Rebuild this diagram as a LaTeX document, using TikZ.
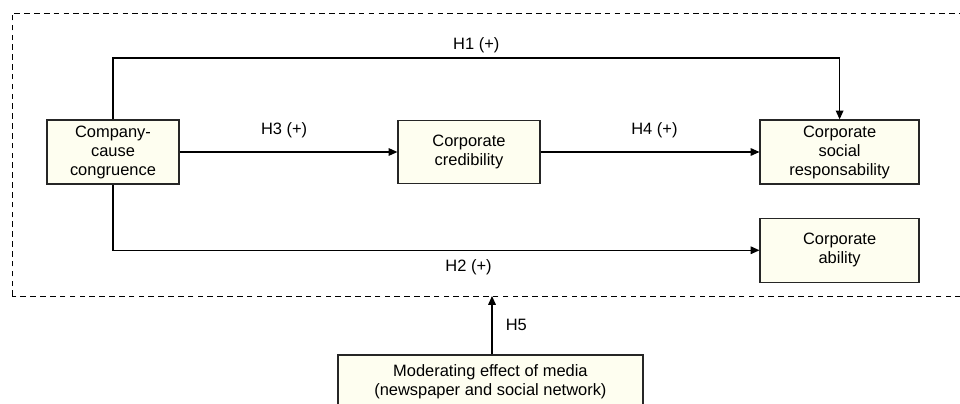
\documentclass[tikz,border=0pt]{standalone}
\usepackage{fontspec}
\setmainfont{Liberation Sans}
\usepackage{tikz}
\usetikzlibrary{arrows.meta, positioning}
\definecolor{boxfill}{HTML}{FEFEF0}

\begin{document}
\begin{tikzpicture}[->, >={Triangle[length=2.2mm,width=1.9mm]}, line width=0.9pt,
        every node/.append style={font=\fontsize{11.7}{13.5}\selectfont}]
      \tikzstyle{construct} = [draw=black!85, fill=boxfill, align=center, inner sep=0pt]
      \tikzstyle{hyp} = [font=\fontsize{11.7}{13.5}\selectfont]
      \useasboundingbox (0,0) rectangle (24,10.075);
      % frame of the model
      \draw[-, dashed, line width=0.6pt, dash pattern=on 4pt off 3pt] (0.3,2.675) rectangle (24.4,9.75);
      \coordinate (top) at (0,8.625);
      \coordinate (frame) at (12.3,2.675);
      % constructs
      \node (congruence) [construct, minimum width=3.3cm, minimum height=1.6cm] at (2.825,6.275)
        {Company-\\cause\\congruence};
      \node (credibility) [construct, minimum width=3.55cm, minimum height=1.575cm] at (11.725,6.275)
        {Corporate\\credibility};
      \node (responsibility) [construct, minimum width=3.975cm, minimum height=1.6cm] at (20.99,6.275)
        {Corporate\\social\\responsability};
      \node (ability) [construct, minimum width=3.975cm, minimum height=1.6cm, below=0.825cm of responsibility]
        {Corporate\\ability};
      \node (media) [construct, minimum width=7.625cm, minimum height=1.35cm] at (12.26,0.525)
        {Moderating effect of media\\(newspaper and social network)};
      % hypotheses
      \draw (congruence.north) -- (congruence.north |- top)
        -- node[hyp, above] {H1 (+)} (responsibility.north |- top) -- (responsibility.north);
      \draw (congruence) -- node[hyp, above=6pt, pos=0.48] {H3 (+)} (credibility);
      \draw (credibility) -- node[hyp, above=6pt, pos=0.52] {H4 (+)} (responsibility);
      \draw (congruence.south) |- node[hyp, below=3pt, pos=0.775] {H2 (+)} (ability.west);
      \draw (media.north -| frame) -- node[hyp, right=6pt] {H5} (frame);
    \end{tikzpicture}
\end{document}
